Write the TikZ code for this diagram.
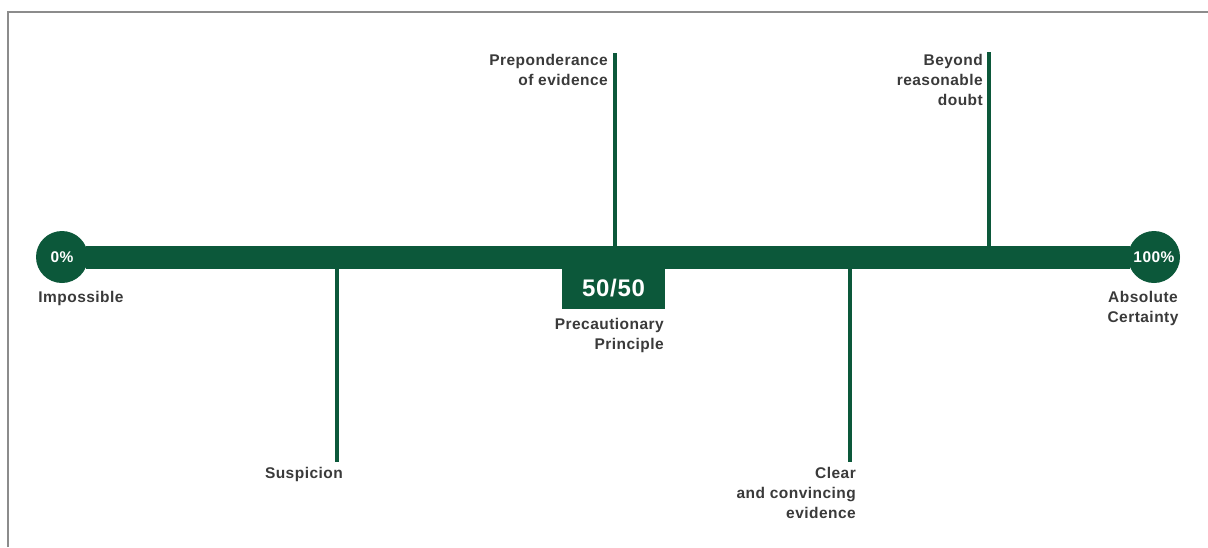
\documentclass[tikz,border=0pt]{standalone}
\usepackage{fontspec}
\setmainfont{Liberation Sans}[LetterSpace=3]
\usetikzlibrary{positioning}

\definecolor{bargreen}{RGB}{12,88,58}
\definecolor{labelgray}{RGB}{58,58,58}
\definecolor{framegray}{RGB}{140,140,140}

\begin{document}
\begin{tikzpicture}[x=1pt, y=-1pt, node distance=6pt,
    tick/.style={draw=bargreen, line width=4pt},
    lbl/.style={inner sep=0pt, text=labelgray, align=right, font=\bfseries\fontsize{15.5}{20}\selectfont},
    pct/.style={circle, fill=bargreen, minimum size=52pt, inner sep=0pt, text=white, font=\bfseries\fontsize{15.5}{18}\selectfont}]

    \useasboundingbox (0,0) rectangle (1208,547);
    \draw[framegray, line width=2pt] (8,547) -- (8,12) -- (1208,12);

    % Nodes
    \node[pct] (zero) at (62,257) {0\%};
    \node[pct] (hundred) at (1154,257) {100\%};
    \node[fill=bargreen, minimum width=103pt, minimum height=43pt, anchor=north, text=white,
          font=\bfseries\fontsize{24}{28}\selectfont] (fifty) at (613.5,266) {50/50};

    % Tick ends
    \coordinate (susp) at (337,257);
    \coordinate (susp end) at (337,462);
    \coordinate (prep) at (615,257);
    \coordinate (prep end) at (615,53);
    \coordinate (clear) at (850,257);
    \coordinate (clear end) at (850,462);
    \coordinate (beyond) at (989,257);
    \coordinate (beyond end) at (989,52);

    % Labels
    \node[lbl, anchor=north] (impossible) at (81,291) {Impossible};
    \node[lbl, anchor=north, align=center] (certainty) at (1143,291) {Absolute\\Certainty};
    \node[lbl, anchor=north east] (precaution) at (664,318) {Precautionary\\Principle};
    \node[lbl, anchor=north east] (suspicion) at (343,467) {Suspicion};
    \node[lbl, anchor=north east] (clear label) at (856,467) {Clear\\and convincing\\evidence};
    \node[lbl, anchor=north east] (prep label) at (608,54) {Preponderance\\of evidence};
    \node[lbl, anchor=north east] (beyond label) at (983,54) {Beyond\\reasonable\\doubt};

    % Lines
    \draw[tick] (susp) -- (susp end);
    \draw[tick] (prep) -- (prep end);
    \draw[tick] (clear) -- (clear end);
    \draw[tick] (beyond) -- (beyond end);
    \draw[bargreen, line width=23pt, shorten <=-2pt, shorten >=-2pt] (zero) -- (hundred);

\end{tikzpicture}
\end{document}
